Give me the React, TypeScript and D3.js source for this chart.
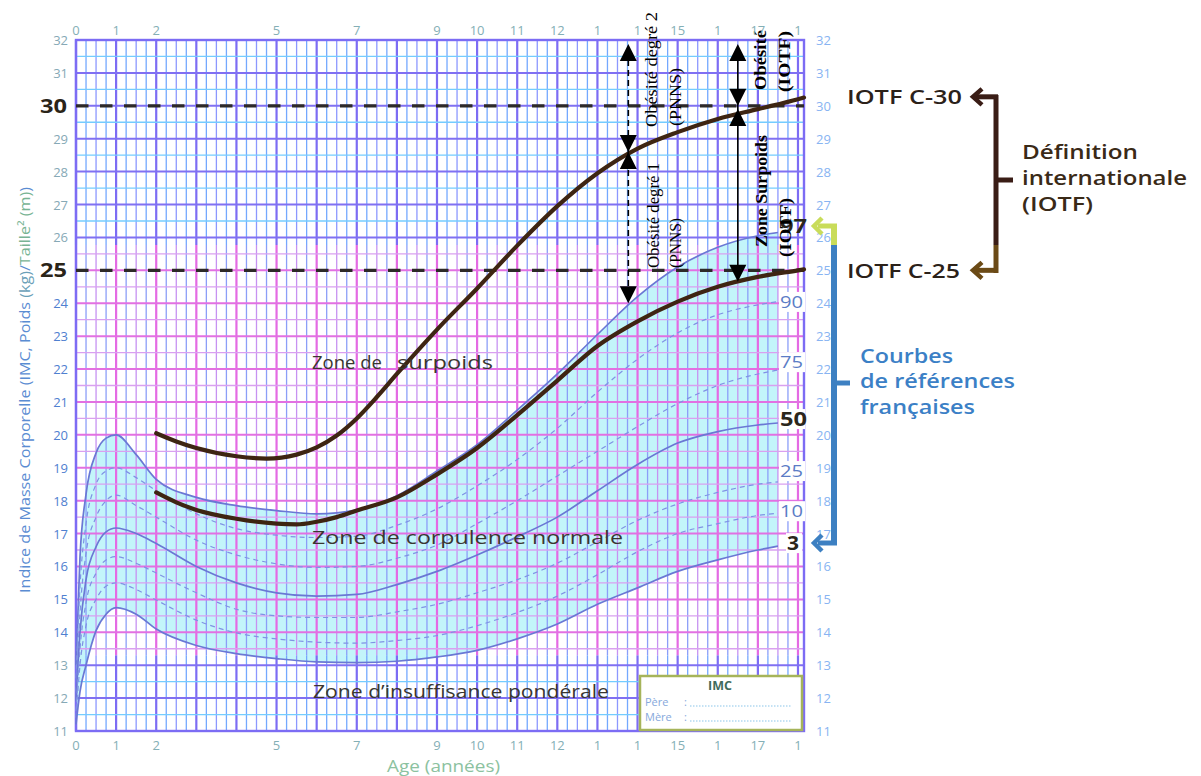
import React from "react";
import * as d3 from "d3";

// ---------- data ----------
const ages = [0, 0.1, 0.25, 0.5, 0.75, 1, 1.5, 2, 3, 4, 5, 6, 7, 8, 9, 10, 11, 12, 13, 14, 15, 16, 17, 17.5];
const p97 = [13.0, 16.3, 18.2, 19.45, 19.9, 20.0, 19.4, 18.65, 18.1, 17.85, 17.7, 17.6, 17.72, 18.15, 18.9, 19.7, 20.75, 21.85, 23.05, 24.2, 25.1, 25.7, 26.05, 26.15];
const p90 = [12.6, 15.4, 17.3, 18.5, 18.9, 19.0, 18.7, 18.3, 17.6, 17.15, 16.95, 16.88, 16.92, 17.25, 17.75, 18.45, 19.25, 20.2, 21.3, 22.3, 23.1, 23.65, 23.95, 24.05];
const p75 = [12.2, 14.6, 16.4, 17.5, 18.0, 18.17, 17.85, 17.5, 16.8, 16.35, 16.08, 15.97, 16.0, 16.25, 16.65, 17.3, 18.0, 18.75, 19.5, 20.25, 20.95, 21.5, 21.85, 21.97];
const p50 = [11.9, 14.0, 15.6, 16.6, 17.05, 17.17, 17.0, 16.7, 16.0, 15.5, 15.2, 15.1, 15.15, 15.45, 15.85, 16.35, 16.9, 17.5, 18.3, 19.1, 19.75, 20.1, 20.3, 20.36];
const p25 = [11.6, 13.5, 14.9, 15.8, 16.2, 16.3, 16.1, 15.8, 15.2, 14.7, 14.5, 14.45, 14.45, 14.62, 14.85, 15.2, 15.6, 16.1, 16.75, 17.4, 17.9, 18.25, 18.5, 18.57];
const p10 = [11.4, 13.0, 14.2, 15.0, 15.4, 15.5, 15.3, 14.98, 14.37, 13.98, 13.8, 13.7, 13.67, 13.75, 13.9, 14.2, 14.6, 15.1, 15.75, 16.45, 17.0, 17.3, 17.55, 17.62];
const p3 = [11.2, 12.2, 13.0, 14.05, 14.55, 14.75, 14.55, 14.1, 13.6, 13.35, 13.2, 13.1, 13.08, 13.12, 13.25, 13.45, 13.8, 14.25, 14.85, 15.35, 15.85, 16.2, 16.5, 16.62];

const pctNames = ["97", "90", "75", "50", "25", "10", "3"];
const pctLabelBmi = [26.35, 24.04, 22.21, 20.48, 18.9, 17.68, 16.71];

const iotf30Ages = [2, 2.5, 3, 4, 4.75, 5.5, 6, 6.5, 7, 7.5, 8, 9, 10, 11, 12, 13, 14, 15, 16, 17, 18, 18.15];
const iotf30 = [20.05, 19.8, 19.6, 19.35, 19.28, 19.4, 19.62, 19.98, 20.5, 21.15, 21.85, 23.2, 24.45, 25.75, 26.95, 27.95, 28.7, 29.2, 29.6, 29.9, 30.2, 30.25];
const iotf25Ages = [2, 2.5, 3, 4, 5, 5.5, 6, 6.5, 7, 8, 9, 10, 11, 12, 13, 14, 15, 16, 17, 18, 18.15];
const iotf25 = [18.25, 17.95, 17.72, 17.45, 17.3, 17.28, 17.36, 17.5, 17.7, 18.1, 18.8, 19.6, 20.6, 21.65, 22.7, 23.45, 24.05, 24.5, 24.8, 25.0, 25.03];

const ageTicks = [0, 1, 2, 5, 7, 9, 10, 11, 12, 13, 14, 15, 16, 17, 18];
const ageTickText = ["0", "1", "2", "5", "7", "9", "10", "11", "12", "1", "1", "15", "1", "17", "1"];
const bmiTicks = d3.range(11, 33);
const cutoffs = [30, 25];

const SANS = "'Open Sans', 'DejaVu Sans', sans-serif";
const SERIF = "'Liberation Serif', 'DejaVu Serif', serif";

export default function App() {
  const x = d3.scaleLinear().domain([0, 18.15]).range([76, 804]);
  const y = d3.scaleLinear().domain([11, 32]).range([731, 40]);
  const X0 = x(0), X1 = x(18.15), Y0 = y(32), Y1 = y(11);
  const pinkTop = y(25.77), pinkBot = y(13.3);

  const area = d3
    .area<number>()
    .x((_, i) => x(ages[i]))
    .y0((_, i) => y(p3[i]))
    .y1((_, i) => y(p97[i]))
    .curve(d3.curveMonotoneX)(p97) as string;

  const mkLine = (xs: number[], ys: number[]) =>
    d3
      .line<number>()
      .x((_, i) => x(xs[i]))
      .y((d) => y(d))
      .curve(d3.curveMonotoneX)(ys) as string;

  const pctSeries = [
    { v: p97, solid: true },
    { v: p90, solid: false },
    { v: p75, solid: false },
    { v: p50, solid: true },
    { v: p25, solid: false },
    { v: p10, solid: false },
    { v: p3, solid: true },
  ];

  // grid
  const vLines: JSX.Element[] = [];
  for (let k = 0; k <= 72; k++) {
    const a = k / 4;
    const xx = x(a);
    const isInt = k % 4 === 0;
    const isHalf = k % 2 === 0 && !isInt;
    const outC = isInt ? "#7c6cf4" : isHalf ? "#8c98ff" : "#74a8ff";
    const pinkC = isInt ? "#e46ae4" : isHalf ? "#c792f2" : "#8c9ef8";
    const w = isInt ? 2.2 : 1.3;
    vLines.push(<line key={"vt" + k} x1={xx} x2={xx} y1={Y0} y2={pinkTop} stroke={outC} strokeWidth={w} />);
    vLines.push(<line key={"vp" + k} x1={xx} x2={xx} y1={pinkTop} y2={pinkBot} stroke={pinkC} strokeWidth={w} />);
    vLines.push(<line key={"vb" + k} x1={xx} x2={xx} y1={pinkBot} y2={Y1} stroke={outC} strokeWidth={w} />);
  }
  const hLines: JSX.Element[] = [];
  for (let k = 0; k <= 42; k++) {
    const b = 11 + k / 2;
    const yy = y(b);
    const isInt = k % 2 === 0;
    const inPink = b >= 13.5 && b <= 25.5;
    const c = inPink ? (isInt ? "#e270e2" : "#d9a0f0") : isInt ? "#8070f2" : "#74ccff";
    hLines.push(
      <line key={"h" + k} x1={X0} x2={X1} y1={yy} y2={yy} stroke={c} strokeWidth={isInt ? 2 : 1.3} />
    );
  }

  const tri = (cx: number, tip: number, dir: number, key: string) => (
    <polygon
      key={key}
      points={`${cx},${tip} ${cx - 8.5},${tip - dir * 17} ${cx + 8.5},${tip - dir * 17}`}
      fill="#000"
    />
  );

  const ax1 = x(13.77);
  const ax2 = x(16.5);

  return (
    <svg
      width={1201}
      height={776}
      style={{ position: "absolute", left: 0, top: 0, background: "#fff" }}
    >
      <rect x={0} y={0} width={1201} height={776} fill="#fff" />
      {/* fill between P3 and P97 */}
      <path d={area} fill="#c3f5fa" />
      {vLines}
      {hLines}
      {/* border */}
      <rect x={X0} y={Y0} width={X1 - X0} height={Y1 - Y0} fill="none" stroke="#7c6cf4" strokeWidth={2.4} />

      {/* percentile curves */}
      {pctSeries.map((s, i) => (
        <path
          key={"pc" + i}
          d={mkLine(ages, s.v)}
          fill="none"
          stroke={s.solid ? "#6a78d4" : "#7f92e4"}
          strokeWidth={s.solid ? 1.7 : 1.2}
          strokeDasharray={s.solid ? undefined : "5 4"}
        />
      ))}

      {/* IOTF cut-off dashed lines */}
      {cutoffs.map((c) => (
        <line key={"co" + c} x1={X0} x2={X1} y1={y(c)} y2={y(c)} stroke="#2d2a28" strokeWidth={3.2} strokeDasharray="12.5 11.5" />
      ))}

      {/* IOTF curves */}
      <path d={mkLine(iotf30Ages, iotf30)} fill="none" stroke="#3e2512" strokeWidth={4.2} strokeLinecap="round" />
      <path d={mkLine(iotf25Ages, iotf25)} fill="none" stroke="#3e2512" strokeWidth={4.2} strokeLinecap="round" />

      {/* zone texts */}
      <g fontFamily={SANS} fontSize={18} fill="#3a3630">
        <text x={312} y={369} textLength={70} lengthAdjust="spacingAndGlyphs">Zone de</text>
        <text x={397} y={369} textLength={96} lengthAdjust="spacingAndGlyphs">surpoids</text>
        <text x={312} y={544} textLength={311} lengthAdjust="spacingAndGlyphs">Zone de corpulence normale</text>
        <text x={313} y={698} textLength={296} lengthAdjust="spacingAndGlyphs">Zone d’insuffisance pondérale</text>
      </g>

      {/* percentile labels */}
      {pctNames.map((n, i) => {
        const bold = n === "97" || n === "50" || n === "3";
        const yy = y(pctLabelBmi[i]);
        const w = n.length === 1 ? 14 : 24;
        const lx = n.length === 1 ? 787 : 780;
        return (
          <g key={"pl" + n}>
            {n !== "97" && <rect x={lx - 1} y={yy - 10} width={w + 2} height={20} fill="#fff" />}
            <text
              x={lx}
              y={yy + (bold ? 7 : 6)}
              fontFamily={SANS}
              fontSize={bold ? 20 : 16}
              fontWeight={bold ? 700 : 400}
              fill={bold ? "#2b261c" : "#5b7cc6"}
              textLength={bold ? (n.length === 1 ? 12 : 27) : 23}
              lengthAdjust="spacingAndGlyphs"
            >
              {n}
            </text>
          </g>
        );
      })}

      {/* annotation arrows */}
      <line x1={ax1} x2={ax1} y1={50} y2={y(24.15) - 10} stroke="#000" strokeWidth={1.6} strokeDasharray="6 4" />
      {tri(ax1, 44, -1, "a1")}
      {tri(ax1, y(28.6), 1, "a2")}
      {tri(ax1, y(28.6), -1, "a3")}
      {tri(ax1, y(24.15) + 5, 1, "a4")}
      <line x1={ax2} x2={ax2} y1={50} y2={y(24.65) - 10} stroke="#000" strokeWidth={1.6} />
      {tri(ax2, 44, -1, "b1")}
      {tri(ax2, y(30), 1, "b2")}
      {tri(ax2, y(29.9), -1, "b3")}
      {tri(ax2, y(24.65), 1, "b4")}

      <g fontFamily={SERIF} fill="#000">
        <text transform="translate(657,127) rotate(-90)" fontSize={17} textLength={115} lengthAdjust="spacingAndGlyphs">Obésité degré 2</text>
        <text transform="translate(681,126) rotate(-90)" fontSize={17} textLength={58} lengthAdjust="spacingAndGlyphs">(PNNS)</text>
        <text transform="translate(659,268) rotate(-90)" fontSize={16} textLength={105} lengthAdjust="spacingAndGlyphs">Obésité degré 1</text>
        <text transform="translate(681,268) rotate(-90)" fontSize={16} textLength={50} lengthAdjust="spacingAndGlyphs">(PNNS)</text>
        <text transform="translate(766,90) rotate(-90)" fontSize={17} fontWeight={700} textLength={60} lengthAdjust="spacingAndGlyphs">Obésité</text>
        <text transform="translate(790,92) rotate(-90)" fontSize={17} fontWeight={700} textLength={61} lengthAdjust="spacingAndGlyphs">(IOTF)</text>
        <text transform="translate(767,247) rotate(-90)" fontSize={17} fontWeight={700} textLength={112} lengthAdjust="spacingAndGlyphs">Zone Surpoids</text>
        <text transform="translate(791,257) rotate(-90)" fontSize={17} fontWeight={700} textLength={59} lengthAdjust="spacingAndGlyphs">(IOTF)</text>
      </g>

      {/* axes labels */}
      <g fontFamily={SANS} fontSize={13} fill="#84afb6" textAnchor="middle">
        {ageTicks.map((a, i) => (
          <text key={"tt" + i} x={x(a)} y={35}>{ageTickText[i]}</text>
        ))}
        {ageTicks.map((a, i) => (
          <text key={"tb" + i} x={x(a)} y={750}>{ageTickText[i]}</text>
        ))}
      </g>
      <g fontFamily={SANS} fontSize={13} textAnchor="end">
        {bmiTicks
          .filter((b) => !cutoffs.includes(b))
          .map((b) => (
            <text key={"yl" + b} x={68} y={y(b) + 5} fill={b >= 14 && b <= 24 ? "#4f80d0" : "#86a9b6"}>
              {b}
            </text>
          ))}
      </g>
      <g fontFamily={SANS} fontSize={20} fontWeight={700} fill="#2a2418" textAnchor="end">
        {cutoffs.map((c) => (
          <text key={"big" + c} x={67} y={y(c) + 7} textLength={27} lengthAdjust="spacingAndGlyphs">{c}</text>
        ))}
      </g>
      <g fontFamily={SANS} fontSize={13} fill="#88b4f2">
        {bmiTicks.map((b) => (
          <text key={"yr" + b} x={816} y={y(b) + 5}>{b}</text>
        ))}
      </g>
      <text
        transform="translate(30,390) rotate(-90)"
        fontFamily={SANS}
        fontSize={14.5}
        textAnchor="middle"
        textLength={406}
        lengthAdjust="spacingAndGlyphs"
        fill="#5a8cd2"
      >
        Indice de Masse Corporelle (IMC, Poids <tspan fill="#6aa0b8">(kg)</tspan>/<tspan fill="#78b494">Taille² (m)</tspan>)
      </text>
      <text x={387} y={772} fontFamily={SANS} fontSize={15.5} fill="#8cc2a0" textLength={113} lengthAdjust="spacingAndGlyphs">
        Age (années)
      </text>

      {/* IMC box */}
      <rect x={640} y={676} width={162} height={54} fill="#fff" stroke="#a6b45a" strokeWidth={2.5} />
      <text x={720} y={690} textAnchor="middle" fontFamily={SANS} fontSize={12.5} fontWeight={700} fill="#3f6c5c">IMC</text>
      <g fontFamily={SANS} fontSize={11} fill="#86a8dc">
        <text x={645} y={706}>Père</text>
        <text x={684} y={706}>:</text>
        <text x={645} y={721}>Mère</text>
        <text x={684} y={721}>:</text>
      </g>
      <line x1={690} x2={791} y1={706} y2={706} stroke="#8cc6ea" strokeWidth={1.2} strokeDasharray="1.5 1.5" />
      <line x1={690} x2={791} y1={721} y2={721} stroke="#8cc6ea" strokeWidth={1.2} strokeDasharray="1.5 1.5" />

      {/* IOTF bracket */}
      <line x1={996} x2={996} y1={95} y2={245} stroke="#3a1d16" strokeWidth={5} />
      <line x1={996} x2={996} y1={245} y2={273} stroke="#6b4a16" strokeWidth={5} />
      <line x1={998} x2={975} y1={y(30) - 9} y2={y(30) - 9} stroke="#3a1d16" strokeWidth={5} />
      <polyline points={`982,${y(30) - 17} 973,${y(30) - 9} 982,${y(30) - 1}`} fill="none" stroke="#3a1d16" strokeWidth={4.5} />
      <line x1={998} x2={975} y1={y(25)} y2={y(25)} stroke="#6b4a16" strokeWidth={5} />
      <polyline points={`982,${y(25) - 8} 973,${y(25)} 982,${y(25) + 8}`} fill="none" stroke="#6b4a16" strokeWidth={4.5} />
      <line x1={996} x2={1013} y1={180} y2={180} stroke="#3a1d16" strokeWidth={5} />

      <g fontFamily={SANS} fontSize={20} fontWeight={600} fill="#2b2119">
        <text x={847} y={104} textLength={115} lengthAdjust="spacingAndGlyphs">IOTF C-30</text>
        <text x={847} y={278} textLength={113} lengthAdjust="spacingAndGlyphs">IOTF C-25</text>
      </g>
      <g fontFamily={SANS} fontSize={20} fontWeight={600} fill="#3a2a17">
        <text x={1022} y={159} textLength={116} lengthAdjust="spacingAndGlyphs">Définition</text>
        <text x={1022} y={185} textLength={165} lengthAdjust="spacingAndGlyphs">internationale</text>
        <text x={1022} y={211} textLength={71} lengthAdjust="spacingAndGlyphs">(IOTF)</text>
      </g>

      {/* French references bracket */}
      <rect x={831} y={226} width={6} height={19} fill="#c9dc5a" />
      <rect x={831} y={245} width={6} height={300} fill="#3d80c2" />
      <line x1={837} x2={818} y1={226} y2={226} stroke="#c9dc5a" strokeWidth={5} />
      <polyline points={`822,218 814,226 822,234`} fill="none" stroke="#c9dc5a" strokeWidth={4.5} />
      <line x1={837} x2={818} y1={543} y2={543} stroke="#3d80c2" strokeWidth={5} />
      <polyline points={`822,535 814,543 822,551`} fill="none" stroke="#3d80c2" strokeWidth={4.5} />
      <line x1={834} x2={850} y1={383} y2={383} stroke="#3d80c2" strokeWidth={5} />
      <g fontFamily={SANS} fontSize={20} fontWeight={600} fill="#3b80c6">
        <text x={860} y={363} textLength={93} lengthAdjust="spacingAndGlyphs">Courbes</text>
        <text x={860} y={388} textLength={155} lengthAdjust="spacingAndGlyphs">de références</text>
        <text x={860} y={414} textLength={115} lengthAdjust="spacingAndGlyphs">françaises</text>
      </g>
    </svg>
  );
}
